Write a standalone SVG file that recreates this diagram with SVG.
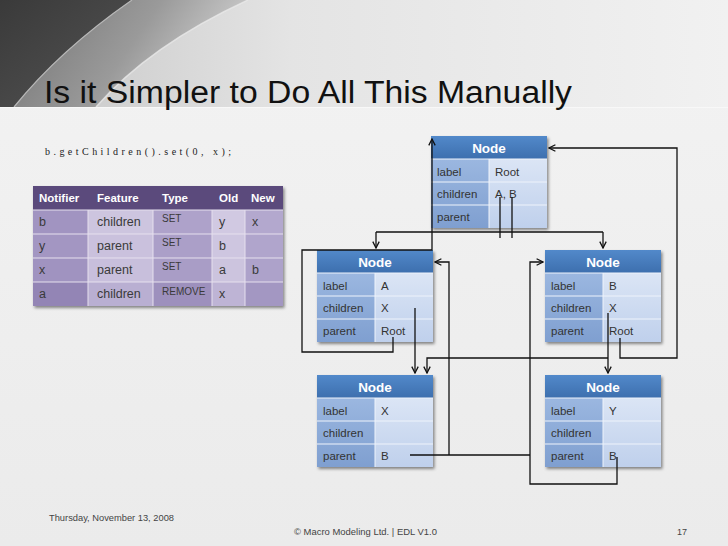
<svg xmlns="http://www.w3.org/2000/svg" width="728" height="546" viewBox="0 0 728 546">
<defs>
  <linearGradient id="bgLow" x1="0" y1="0" x2="0" y2="1">
    <stop offset="0" stop-color="#f3f3f3"/>
    <stop offset="1" stop-color="#ebebeb"/>
  </linearGradient>
  <linearGradient id="bgTop" x1="0" y1="0" x2="1" y2="0">
    <stop offset="0" stop-color="#c4c4c4"/>
    <stop offset="0.4" stop-color="#e4e4e4"/>
    <stop offset="1" stop-color="#f1f1f1"/>
  </linearGradient>
  <linearGradient id="midBand" x1="0" y1="0" x2="1" y2="0.3">
    <stop offset="0" stop-color="#6f6f6f"/>
    <stop offset="0.6" stop-color="#9a9a9a"/>
    <stop offset="1" stop-color="#cfcfcf"/>
  </linearGradient>
  <linearGradient id="darkBand" x1="0" y1="0" x2="1" y2="1">
    <stop offset="0" stop-color="#3a3a3a"/>
    <stop offset="1" stop-color="#545454"/>
  </linearGradient>
  <linearGradient id="hdr" x1="0" y1="0" x2="0" y2="1">
    <stop offset="0" stop-color="#5289ca"/>
    <stop offset="1" stop-color="#3d6fae"/>
  </linearGradient>
  <linearGradient id="cellL" x1="0" y1="0" x2="0" y2="1">
    <stop offset="0" stop-color="#9bb7e0"/>
    <stop offset="1" stop-color="#7f9fd0"/>
  </linearGradient>
  <linearGradient id="cellR" x1="0" y1="0" x2="0" y2="1">
    <stop offset="0" stop-color="#dbe5f5"/>
    <stop offset="1" stop-color="#bfd0ec"/>
  </linearGradient>
  <filter id="shadow" x="-10%" y="-10%" width="125%" height="130%">
    <feDropShadow dx="1.5" dy="2" stdDeviation="1.5" flood-color="#000" flood-opacity="0.45"/>
  </filter>
  <marker id="arr" viewBox="0 0 10 10" refX="9" refY="5" markerWidth="8" markerHeight="8" markerUnits="userSpaceOnUse" orient="auto">
    <path d="M1,1 L9,5 L1,9" fill="none" stroke="#111" stroke-width="1.6"/>
  </marker>
  <style>
    .t { font-family: "Liberation Sans", Arial, sans-serif; }
    .hd { font-family: "Liberation Sans", Arial, sans-serif; font-size: 13.5px; font-weight: bold; fill: #fff; text-anchor: middle; }
    .cl { font-family: "Liberation Sans", Arial, sans-serif; font-size: 11.5px; fill: #333; }
    .th { font-family: "Liberation Sans", Arial, sans-serif; font-size: 11.5px; font-weight: bold; fill: #fff; }
    .td { font-family: "Liberation Sans", Arial, sans-serif; font-size: 12.5px; fill: #3a3a3a; }
    .ts { font-family: "Liberation Sans", Arial, sans-serif; font-size: 10px; fill: #3a3a3a; }
    .sep { stroke: #eef3fb; stroke-width: 1; }
    .tsep { stroke: #e6e0ee; stroke-width: 1; }
    .conn path { fill: none; stroke: #111; stroke-width: 1.3; }
  </style>
</defs>

<!-- background -->
<rect x="0" y="0" width="728" height="546" fill="url(#bgLow)"/>
<rect x="0" y="0" width="728" height="107" fill="url(#bgTop)"/>
<path d="M0,0 H248 Q150,45 96,107 H0 Z" fill="url(#midBand)"/>
<path d="M248,0 Q150,45 96,107" fill="none" stroke="#e8e8e8" stroke-width="1.5" opacity="0.8"/>
<path d="M0,0 H132 Q60,50 14,107 H0 Z" fill="url(#darkBand)"/>
<path d="M132,0 Q60,50 14,107" fill="none" stroke="#b8b8b8" stroke-width="1.2"/>
<line x1="0" y1="107.5" x2="728" y2="107.5" stroke="#f8f8f8" stroke-width="1"/>

<!-- title -->
<text class="t" x="44" y="103" font-size="31" fill="#111" textLength="528" lengthAdjust="spacingAndGlyphs">Is it Simpler to Do All This Manually</text>
<text x="45" y="155" font-family="'Liberation Serif', serif" font-size="10" fill="#222" textLength="186" lengthAdjust="spacing">b.getChildren().set(0, x);</text>

<!-- event table -->
<g id="table">
  <rect x="33" y="186" width="250" height="120" fill="#5d4c7e" filter="url(#shadow)"/>
  <rect x="33" y="186" width="250" height="24" fill="#5b4a7c"/>
  <!-- row 1 -->
  <rect x="33" y="210" width="55" height="24" fill="#a194c1"/>
  <rect x="88" y="210" width="65" height="24" fill="#cdc5df"/>
  <rect x="153" y="210" width="59" height="24" fill="#aea2ca"/>
  <rect x="212" y="210" width="33" height="24" fill="#d1c9e2"/>
  <rect x="245" y="210" width="38" height="24" fill="#b3a8ce"/>
  <!-- row 2 -->
  <rect x="33" y="234" width="55" height="24" fill="#a396c2"/>
  <rect x="88" y="234" width="65" height="24" fill="#cac1dd"/>
  <rect x="153" y="234" width="59" height="24" fill="#ab9fc8"/>
  <rect x="212" y="234" width="33" height="24" fill="#cec6e0"/>
  <rect x="245" y="234" width="38" height="24" fill="#b0a5cc"/>
  <!-- row 3 -->
  <rect x="33" y="258" width="55" height="24" fill="#a093c0"/>
  <rect x="88" y="258" width="65" height="24" fill="#c8bfdc"/>
  <rect x="153" y="258" width="59" height="24" fill="#a99dc6"/>
  <rect x="212" y="258" width="33" height="24" fill="#ccc4de"/>
  <rect x="245" y="258" width="38" height="24" fill="#ada2ca"/>
  <!-- row 4 -->
  <rect x="33" y="282" width="55" height="24" fill="#9385b5"/>
  <rect x="88" y="282" width="65" height="24" fill="#b9afd2"/>
  <rect x="153" y="282" width="59" height="24" fill="#9d90bd"/>
  <rect x="212" y="282" width="33" height="24" fill="#beb4d5"/>
  <rect x="245" y="282" width="38" height="24" fill="#a397c2"/>
  <g class="tsep">
    <line x1="33" y1="210" x2="283" y2="210"/>
    <line x1="33" y1="234" x2="283" y2="234"/>
    <line x1="33" y1="258" x2="283" y2="258"/>
    <line x1="33" y1="282" x2="283" y2="282"/>
    <line x1="88" y1="210" x2="88" y2="306"/>
    <line x1="153" y1="210" x2="153" y2="306"/>
    <line x1="212" y1="210" x2="212" y2="306"/>
    <line x1="245" y1="210" x2="245" y2="306"/>
  </g>
  <text class="th" x="39" y="202">Notifier</text>
  <text class="th" x="97" y="202">Feature</text>
  <text class="th" x="162" y="202">Type</text>
  <text class="th" x="219" y="202">Old</text>
  <text class="th" x="251" y="202">New</text>

  <text class="td" x="39" y="226">b</text>
  <text class="td" x="97" y="226">children</text>
  <text class="ts" x="162" y="222">SET</text>
  <text class="td" x="219" y="226">y</text>
  <text class="td" x="252" y="226">x</text>

  <text class="td" x="39" y="250">y</text>
  <text class="td" x="97" y="250">parent</text>
  <text class="ts" x="162" y="246">SET</text>
  <text class="td" x="219" y="250">b</text>

  <text class="td" x="39" y="274">x</text>
  <text class="td" x="97" y="274">parent</text>
  <text class="ts" x="162" y="270">SET</text>
  <text class="td" x="219" y="274">a</text>
  <text class="td" x="252" y="274">b</text>

  <text class="td" x="39" y="298">a</text>
  <text class="td" x="97" y="298">children</text>
  <text class="ts" x="162" y="295" font-size="8.5">REMOVE</text>
  <text class="td" x="219" y="298">x</text>
</g>

<!-- nodes -->
<g id="node-root">
  <rect x="431" y="136" width="116" height="92" fill="#3d6fae" filter="url(#shadow)"/>
  <rect x="431" y="136" width="116" height="23" fill="url(#hdr)"/>
  <rect x="431" y="159" width="58" height="69" fill="url(#cellL)"/>
  <rect x="489" y="159" width="58" height="69" fill="url(#cellR)"/>
  <line class="sep" x1="431" y1="159" x2="547" y2="159" stroke-width="2"/>
  <line class="sep" x1="431" y1="182" x2="547" y2="182"/>
  <line class="sep" x1="431" y1="205" x2="547" y2="205"/>
  <line class="sep" x1="489" y1="159" x2="489" y2="228"/>
  <text class="hd" x="489" y="153">Node</text>
  <text class="cl" x="437" y="176">label</text>
  <text class="cl" x="495" y="176">Root</text>
  <text class="cl" x="437" y="198">children</text>
  <text class="cl" x="495" y="198">A, B</text>
  <text class="cl" x="437" y="221">parent</text>
</g>

<g id="node-a">
  <rect x="317" y="250" width="116" height="92" fill="#3d6fae" filter="url(#shadow)"/>
  <rect x="317" y="250" width="116" height="23" fill="url(#hdr)"/>
  <rect x="317" y="273" width="58" height="69" fill="url(#cellL)"/>
  <rect x="375" y="273" width="58" height="69" fill="url(#cellR)"/>
  <line class="sep" x1="317" y1="273" x2="433" y2="273" stroke-width="2"/>
  <line class="sep" x1="317" y1="296" x2="433" y2="296"/>
  <line class="sep" x1="317" y1="319" x2="433" y2="319"/>
  <line class="sep" x1="375" y1="273" x2="375" y2="342"/>
  <text class="hd" x="375" y="267">Node</text>
  <text class="cl" x="323" y="290">label</text>
  <text class="cl" x="381" y="290">A</text>
  <text class="cl" x="323" y="312">children</text>
  <text class="cl" x="381" y="312">X</text>
  <text class="cl" x="323" y="335">parent</text>
  <text class="cl" x="381" y="335">Root</text>
</g>

<g id="node-b">
  <rect x="545" y="250" width="116" height="92" fill="#3d6fae" filter="url(#shadow)"/>
  <rect x="545" y="250" width="116" height="23" fill="url(#hdr)"/>
  <rect x="545" y="273" width="58" height="69" fill="url(#cellL)"/>
  <rect x="603" y="273" width="58" height="69" fill="url(#cellR)"/>
  <line class="sep" x1="545" y1="273" x2="661" y2="273" stroke-width="2"/>
  <line class="sep" x1="545" y1="296" x2="661" y2="296"/>
  <line class="sep" x1="545" y1="319" x2="661" y2="319"/>
  <line class="sep" x1="603" y1="273" x2="603" y2="342"/>
  <text class="hd" x="603" y="267">Node</text>
  <text class="cl" x="551" y="290">label</text>
  <text class="cl" x="609" y="290">B</text>
  <text class="cl" x="551" y="312">children</text>
  <text class="cl" x="609" y="312">X</text>
  <text class="cl" x="551" y="335">parent</text>
  <text class="cl" x="609" y="335">Root</text>
</g>

<g id="node-x">
  <rect x="317" y="375" width="116" height="92" fill="#3d6fae" filter="url(#shadow)"/>
  <rect x="317" y="375" width="116" height="23" fill="url(#hdr)"/>
  <rect x="317" y="398" width="58" height="69" fill="url(#cellL)"/>
  <rect x="375" y="398" width="58" height="69" fill="url(#cellR)"/>
  <line class="sep" x1="317" y1="398" x2="433" y2="398" stroke-width="2"/>
  <line class="sep" x1="317" y1="421" x2="433" y2="421"/>
  <line class="sep" x1="317" y1="444" x2="433" y2="444"/>
  <line class="sep" x1="375" y1="398" x2="375" y2="467"/>
  <text class="hd" x="375" y="392">Node</text>
  <text class="cl" x="323" y="415">label</text>
  <text class="cl" x="381" y="415">X</text>
  <text class="cl" x="323" y="437">children</text>
  <text class="cl" x="323" y="460">parent</text>
  <text class="cl" x="381" y="460">B</text>
</g>

<g id="node-y">
  <rect x="545" y="375" width="116" height="92" fill="#3d6fae" filter="url(#shadow)"/>
  <rect x="545" y="375" width="116" height="23" fill="url(#hdr)"/>
  <rect x="545" y="398" width="58" height="69" fill="url(#cellL)"/>
  <rect x="603" y="398" width="58" height="69" fill="url(#cellR)"/>
  <line class="sep" x1="545" y1="398" x2="661" y2="398" stroke-width="2"/>
  <line class="sep" x1="545" y1="421" x2="661" y2="421"/>
  <line class="sep" x1="545" y1="444" x2="661" y2="444"/>
  <line class="sep" x1="603" y1="398" x2="603" y2="467"/>
  <text class="hd" x="603" y="392">Node</text>
  <text class="cl" x="551" y="415">label</text>
  <text class="cl" x="609" y="415">Y</text>
  <text class="cl" x="551" y="437">children</text>
  <text class="cl" x="551" y="460">parent</text>
  <text class="cl" x="609" y="460">B</text>
</g>

<!-- connectors -->
<g id="connectors" class="conn">
  <path d="M393,337 V352 H302 V250 H432 V139" marker-end="url(#arr)"/>
  <path d="M620,338 V358 H677 V148 H549" marker-end="url(#arr)"/>
  <path d="M500,197 V238"/>
  <path d="M512,197 V238"/>
  <path d="M376,232 H603"/>
  <path d="M376,232 V248" marker-end="url(#arr)"/>
  <path d="M603,232 V248" marker-end="url(#arr)"/>
  <path d="M415,308 V373" marker-end="url(#arr)"/>
  <path d="M608,313 V373" marker-end="url(#arr)"/>
  <path d="M608,358 H427 V373" marker-end="url(#arr)"/>
  <path d="M410,455 H530"/>
  <path d="M449,455 V262 H435" marker-end="url(#arr)"/>
  <path d="M617,457 V484 H530 V262 H543" marker-end="url(#arr)"/>
</g>

<!-- footer -->
<text class="t" x="49" y="521" font-size="9" fill="#444" textLength="125" lengthAdjust="spacingAndGlyphs">Thursday, November 13, 2008</text>
<text class="t" x="294" y="535" font-size="9" fill="#444" textLength="143" lengthAdjust="spacingAndGlyphs">© Macro Modeling Ltd. | EDL V1.0</text>
<text class="t" x="677" y="535" font-size="9" fill="#444">17</text>
</svg>
